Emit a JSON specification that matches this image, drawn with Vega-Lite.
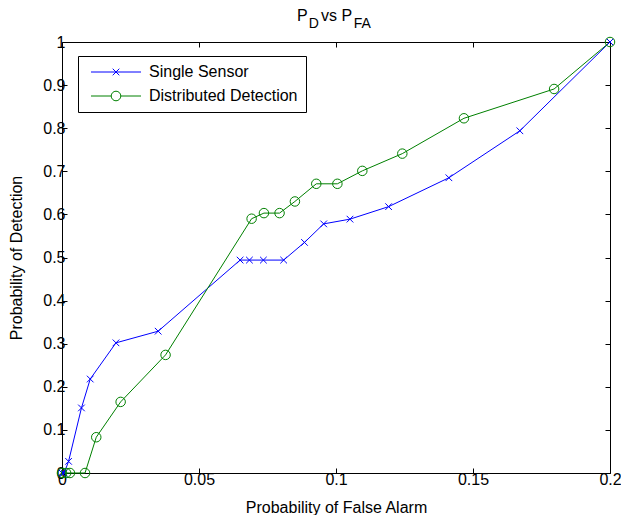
{
  "$schema": "https://vega.github.io/schema/vega-lite/v6.json",
  "width": 548,
  "height": 431,
  "autosize": "none",
  "padding": {"left": 62, "top": 42, "right": 11, "bottom": 42},
  "background": "white",
  "config": {
    "font": "Liberation Sans",
    "view": {"stroke": null},
    "axis": {"domainColor": "black", "tickColor": "black", "labelColor": "black", "titleColor": "black", "labelFontSize": 16, "titleFontSize": 16, "titleFontWeight": "normal", "grid": false, "labelFlush": false, "labelOverlap": false, "domainWidth": 1, "tickWidth": 1}
  },
  "title": {
    "text": "P\u00a0\u00a0\u00a0vs P",
    "subtitle": "\u200b\u00a0\u00a0\u00a0D\u00a0\u00a0\u00a0\u00a0\u00a0\u00a0\u00a0\u00a0\u00a0FA",
    "frame": "group",
    "anchor": "start",
    "dx": 235,
    "fontSize": 16,
    "fontWeight": "normal",
    "subtitleFontSize": 14,
    "subtitlePadding": -7,
    "offset": 3,
    "color": "black",
    "subtitleColor": "black"
  },
  "data": {"values": [
    {"series": "Single Sensor", "pfa": 0, "pd": 0},
    {"series": "Single Sensor", "pfa": 0.0008, "pd": 0},
    {"series": "Single Sensor", "pfa": 0.0024, "pd": 0.027},
    {"series": "Single Sensor", "pfa": 0.0071, "pd": 0.151},
    {"series": "Single Sensor", "pfa": 0.0103, "pd": 0.218},
    {"series": "Single Sensor", "pfa": 0.0197, "pd": 0.302},
    {"series": "Single Sensor", "pfa": 0.0351, "pd": 0.329},
    {"series": "Single Sensor", "pfa": 0.065, "pd": 0.494},
    {"series": "Single Sensor", "pfa": 0.0684, "pd": 0.494},
    {"series": "Single Sensor", "pfa": 0.0735, "pd": 0.494},
    {"series": "Single Sensor", "pfa": 0.0809, "pd": 0.494},
    {"series": "Single Sensor", "pfa": 0.0885, "pd": 0.535},
    {"series": "Single Sensor", "pfa": 0.0955, "pd": 0.578},
    {"series": "Single Sensor", "pfa": 0.1051, "pd": 0.589},
    {"series": "Single Sensor", "pfa": 0.1192, "pd": 0.618},
    {"series": "Single Sensor", "pfa": 0.1412, "pd": 0.685},
    {"series": "Single Sensor", "pfa": 0.1671, "pd": 0.794},
    {"series": "Single Sensor", "pfa": 0.2, "pd": 1},
    {"series": "Distributed Detection", "pfa": 0, "pd": 0},
    {"series": "Distributed Detection", "pfa": 0.0015, "pd": 0},
    {"series": "Distributed Detection", "pfa": 0.0029, "pd": 0},
    {"series": "Distributed Detection", "pfa": 0.0084, "pd": 0},
    {"series": "Distributed Detection", "pfa": 0.0125, "pd": 0.083},
    {"series": "Distributed Detection", "pfa": 0.0214, "pd": 0.165},
    {"series": "Distributed Detection", "pfa": 0.0378, "pd": 0.274},
    {"series": "Distributed Detection", "pfa": 0.0692, "pd": 0.59},
    {"series": "Distributed Detection", "pfa": 0.0737, "pd": 0.603},
    {"series": "Distributed Detection", "pfa": 0.0794, "pd": 0.603},
    {"series": "Distributed Detection", "pfa": 0.085, "pd": 0.63},
    {"series": "Distributed Detection", "pfa": 0.0928, "pd": 0.671},
    {"series": "Distributed Detection", "pfa": 0.1005, "pd": 0.671},
    {"series": "Distributed Detection", "pfa": 0.1096, "pd": 0.701},
    {"series": "Distributed Detection", "pfa": 0.1242, "pd": 0.741},
    {"series": "Distributed Detection", "pfa": 0.1467, "pd": 0.823},
    {"series": "Distributed Detection", "pfa": 0.1796, "pd": 0.891},
    {"series": "Distributed Detection", "pfa": 0.2, "pd": 1}
  ]},
  "resolve": {"axis": {"x": "independent", "y": "independent"}},
  "layer": [
    {
      "mark": {"type": "line", "strokeWidth": 1},
      "encoding": {
        "x": {"field": "pfa", "type": "quantitative", "scale": {"domain": [0, 0.2], "nice": false, "zero": false},
              "axis": {"orient": "bottom", "values": [0, 0.05, 0.1, 0.15, 0.2], "format": "~g", "tickSize": -5, "labelPadding": 3, "title": "Probability of False Alarm", "titlePadding": 12}},
        "y": {"field": "pd", "type": "quantitative", "scale": {"domain": [0, 1], "nice": false, "zero": false},
              "axis": {"orient": "left", "values": [0, 0.1, 0.2, 0.3, 0.4, 0.5, 0.6, 0.7, 0.8, 0.9, 1], "format": "~g", "tickSize": -5, "labelPadding": 2, "title": "Probability of Detection", "titlePadding": 18}},
        "color": {"field": "series", "type": "nominal",
          "scale": {"domain": ["Single Sensor", "Distributed Detection"], "range": ["#0000ff", "#008000"]},
          "legend": {
            "orient": "none", "legendX": 16, "legendY": 14, "title": null,
            "strokeColor": "black", "fillColor": "white", "padding": 8, "rowPadding": 8,
            "labelFontSize": 16, "labelColor": "black", "labelOffset": 47, "symbolSize": 100,
            "symbolStrokeWidth": 1, "symbolFillColor": "transparent",
            "symbolType": {"expr": "datum.value === 'Single Sensor' ? 'M-0.6,0H9.4M3.74,-0.66L5.06,0.66M3.74,0.66L5.06,-0.66' : 'M-0.6,0H3.44M5.36,0H9.4M3.44,0A0.96,0.96,0,1,0,5.36,0A0.96,0.96,0,1,0,3.44,0'"}
          }}
      }
    },
    {
      "transform": [{"filter": "datum.series === 'Single Sensor'"}],
      "mark": {"type": "point", "filled": false, "strokeWidth": 1, "size": 90, "opacity": 1, "shape": "M-0.7,-0.7L0.7,0.7M-0.7,0.7L0.7,-0.7"},
      "encoding": {
        "x": {"field": "pfa", "type": "quantitative", "axis": {"orient": "top", "values": [0, 0.05, 0.1, 0.15, 0.2], "labels": false, "tickSize": -5, "title": null}},
        "y": {"field": "pd", "type": "quantitative", "axis": {"orient": "right", "values": [0, 0.1, 0.2, 0.3, 0.4, 0.5, 0.6, 0.7, 0.8, 0.9, 1], "labels": false, "tickSize": -5, "title": null}},
        "color": {"field": "series", "type": "nominal", "legend": null}
      }
    },
    {
      "transform": [{"filter": "datum.series === 'Distributed Detection'"}],
      "mark": {"type": "point", "filled": false, "strokeWidth": 1, "size": 90, "opacity": 1, "shape": "circle"},
      "encoding": {
        "x": {"field": "pfa", "type": "quantitative", "axis": null},
        "y": {"field": "pd", "type": "quantitative", "axis": null},
        "color": {"field": "series", "type": "nominal", "legend": null}
      }
    }
  ]
}
